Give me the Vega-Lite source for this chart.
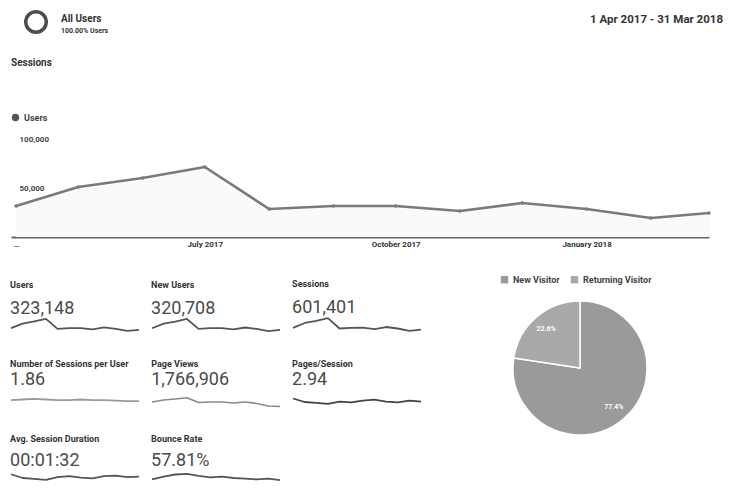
{
  "$schema": "https://vega.github.io/schema/vega-lite/v6.json",
  "background": "white",
  "padding": {"left": 10, "top": 10, "right": 0, "bottom": 0},
  "config": {
    "view": {"stroke": null},
    "font": "Roboto",
    "title": {"color": "#333333", "fontWeight": "bold"},
    "line": {"strokeJoin": "round"},
    "arc": {"strokeJoin": "round"},
    "point": {"strokeJoin": "round"}
  },
  "resolve": {"scale": {"color": "independent"}, "legend": {"color": "independent"}},
  "datasets": {
    "monthly": [
      {"month": "2017-04-01", "users": 31600, "series": "Users"},
      {"month": "2017-05-01", "users": 51000, "series": "Users"},
      {"month": "2017-06-01", "users": 60200, "series": "Users"},
      {"month": "2017-07-01", "users": 71400, "series": "Users"},
      {"month": "2017-08-01", "users": 28600, "series": "Users"},
      {"month": "2017-09-01", "users": 31600, "series": "Users"},
      {"month": "2017-10-01", "users": 31600, "series": "Users"},
      {"month": "2017-11-01", "users": 26500, "series": "Users"},
      {"month": "2017-12-01", "users": 34700, "series": "Users"},
      {"month": "2018-01-01", "users": 28600, "series": "Users"},
      {"month": "2018-02-01", "users": 19400, "series": "Users"},
      {"month": "2018-03-01", "users": 24500, "series": "Users"}
    ],
    "sparks": [
      {"metric": "Users", "m": 1, "v": 31600}, {"metric": "Users", "m": 2, "v": 51000}, {"metric": "Users", "m": 3, "v": 60200}, {"metric": "Users", "m": 4, "v": 71400}, {"metric": "Users", "m": 5, "v": 28600}, {"metric": "Users", "m": 6, "v": 31600}, {"metric": "Users", "m": 7, "v": 31600}, {"metric": "Users", "m": 8, "v": 26500}, {"metric": "Users", "m": 9, "v": 34700}, {"metric": "Users", "m": 10, "v": 28600}, {"metric": "Users", "m": 11, "v": 19400}, {"metric": "Users", "m": 12, "v": 24500},
      {"metric": "New Users", "m": 1, "v": 31200}, {"metric": "New Users", "m": 2, "v": 50600}, {"metric": "New Users", "m": 3, "v": 59700}, {"metric": "New Users", "m": 4, "v": 70900}, {"metric": "New Users", "m": 5, "v": 28300}, {"metric": "New Users", "m": 6, "v": 31300}, {"metric": "New Users", "m": 7, "v": 31200}, {"metric": "New Users", "m": 8, "v": 26200}, {"metric": "New Users", "m": 9, "v": 34300}, {"metric": "New Users", "m": 10, "v": 28300}, {"metric": "New Users", "m": 11, "v": 19100}, {"metric": "New Users", "m": 12, "v": 24200},
      {"metric": "Sessions", "m": 1, "v": 44000}, {"metric": "Sessions", "m": 2, "v": 71500}, {"metric": "Sessions", "m": 3, "v": 84000}, {"metric": "Sessions", "m": 4, "v": 99500}, {"metric": "Sessions", "m": 5, "v": 40000}, {"metric": "Sessions", "m": 6, "v": 44000}, {"metric": "Sessions", "m": 7, "v": 44500}, {"metric": "Sessions", "m": 8, "v": 37000}, {"metric": "Sessions", "m": 9, "v": 48500}, {"metric": "Sessions", "m": 10, "v": 40000}, {"metric": "Sessions", "m": 11, "v": 27000}, {"metric": "Sessions", "m": 12, "v": 34000},
      {"metric": "Number of Sessions per User", "m": 1, "v": 1.86}, {"metric": "Number of Sessions per User", "m": 2, "v": 1.87}, {"metric": "Number of Sessions per User", "m": 3, "v": 1.88}, {"metric": "Number of Sessions per User", "m": 4, "v": 1.87}, {"metric": "Number of Sessions per User", "m": 5, "v": 1.86}, {"metric": "Number of Sessions per User", "m": 6, "v": 1.86}, {"metric": "Number of Sessions per User", "m": 7, "v": 1.87}, {"metric": "Number of Sessions per User", "m": 8, "v": 1.86}, {"metric": "Number of Sessions per User", "m": 9, "v": 1.86}, {"metric": "Number of Sessions per User", "m": 10, "v": 1.85}, {"metric": "Number of Sessions per User", "m": 11, "v": 1.84}, {"metric": "Number of Sessions per User", "m": 12, "v": 1.84},
      {"metric": "Page Views", "m": 1, "v": 150000}, {"metric": "Page Views", "m": 2, "v": 170000}, {"metric": "Page Views", "m": 3, "v": 180000}, {"metric": "Page Views", "m": 4, "v": 192000}, {"metric": "Page Views", "m": 5, "v": 145000}, {"metric": "Page Views", "m": 6, "v": 150000}, {"metric": "Page Views", "m": 7, "v": 150000}, {"metric": "Page Views", "m": 8, "v": 140000}, {"metric": "Page Views", "m": 9, "v": 150000}, {"metric": "Page Views", "m": 10, "v": 135000}, {"metric": "Page Views", "m": 11, "v": 110000}, {"metric": "Page Views", "m": 12, "v": 105000},
      {"metric": "Pages/Session", "m": 1, "v": 3.05}, {"metric": "Pages/Session", "m": 2, "v": 2.90}, {"metric": "Pages/Session", "m": 3, "v": 2.86}, {"metric": "Pages/Session", "m": 4, "v": 2.82}, {"metric": "Pages/Session", "m": 5, "v": 2.92}, {"metric": "Pages/Session", "m": 6, "v": 2.88}, {"metric": "Pages/Session", "m": 7, "v": 2.96}, {"metric": "Pages/Session", "m": 8, "v": 3.00}, {"metric": "Pages/Session", "m": 9, "v": 2.92}, {"metric": "Pages/Session", "m": 10, "v": 2.88}, {"metric": "Pages/Session", "m": 11, "v": 2.96}, {"metric": "Pages/Session", "m": 12, "v": 2.92},
      {"metric": "Avg. Session Duration", "m": 1, "v": 98}, {"metric": "Avg. Session Duration", "m": 2, "v": 90}, {"metric": "Avg. Session Duration", "m": 3, "v": 88}, {"metric": "Avg. Session Duration", "m": 4, "v": 86}, {"metric": "Avg. Session Duration", "m": 5, "v": 92}, {"metric": "Avg. Session Duration", "m": 6, "v": 94}, {"metric": "Avg. Session Duration", "m": 7, "v": 91}, {"metric": "Avg. Session Duration", "m": 8, "v": 89}, {"metric": "Avg. Session Duration", "m": 9, "v": 94}, {"metric": "Avg. Session Duration", "m": 10, "v": 95}, {"metric": "Avg. Session Duration", "m": 11, "v": 92}, {"metric": "Avg. Session Duration", "m": 12, "v": 93},
      {"metric": "Bounce Rate", "m": 1, "v": 56.0}, {"metric": "Bounce Rate", "m": 2, "v": 58.0}, {"metric": "Bounce Rate", "m": 3, "v": 59.5}, {"metric": "Bounce Rate", "m": 4, "v": 60.0}, {"metric": "Bounce Rate", "m": 5, "v": 58.5}, {"metric": "Bounce Rate", "m": 6, "v": 57.5}, {"metric": "Bounce Rate", "m": 7, "v": 58.0}, {"metric": "Bounce Rate", "m": 8, "v": 57.0}, {"metric": "Bounce Rate", "m": 9, "v": 56.5}, {"metric": "Bounce Rate", "m": 10, "v": 56.0}, {"metric": "Bounce Rate", "m": 11, "v": 56.5}, {"metric": "Bounce Rate", "m": 12, "v": 55.5}
    ]
  },
  "vconcat": [
    {
      "hconcat": [
        {
          "width": 50, "height": 22,
          "data": {"values": [{"segment": "All Users"}]},
          "mark": {"type": "point", "shape": "circle", "filled": false, "size": 420, "strokeWidth": 3.5, "color": "#4d4d4d", "opacity": 1, "strokeJoin": "round"},
          "encoding": {}
        },
        {
          "width": 380, "height": 1,
          "data": {"values": [{"segment": "All Users", "share": "100.00% Users"}]},
          "title": {"text": "All Users", "subtitle": "100.00% Users", "orient": "bottom", "anchor": "start", "fontSize": 10, "subtitleFontSize": 7, "subtitleFontWeight": "bold", "subtitleColor": "#333333", "subtitlePadding": 3, "offset": 2},
          "mark": {"type": "text", "opacity": 0, "fontSize": 1},
          "encoding": {"text": {"field": "segment"}}
        },
        {
          "width": 282, "height": 1,
          "data": {"values": [{"range": "1 Apr 2017 - 31 Mar 2018"}]},
          "title": {"text": "1 Apr 2017 - 31 Mar 2018", "orient": "bottom", "anchor": "end", "fontSize": 11.5, "offset": 2},
          "mark": {"type": "text", "opacity": 0, "fontSize": 1},
          "encoding": {"text": {"field": "range"}}
        }
      ],
      "spacing": 0
    },
    {
      "resolve": {"scale": {"color": "independent"}, "legend": {"color": "independent"}},
      "vconcat": [
        {
          "width": 698, "height": 98,
          "title": {"text": "Sessions", "anchor": "start", "fontSize": 10, "offset": 45},
          "data": {"name": "monthly"},
          "encoding": {
            "x": {"field": "month", "type": "temporal",
              "scale": {"type": "utc", "domain": [{"year": 2017, "month": 3, "date": 29, "hours": 14, "utc": true}, {"year": 2018, "month": 3, "date": 1, "utc": true}]},
              "axis": {"title": null, "values": [{"year": 2017, "month": 4, "date": 1, "utc": true}, {"year": 2017, "month": 7, "date": 1, "utc": true}, {"year": 2017, "month": 10, "date": 1, "utc": true}, {"year": 2018, "month": 1, "date": 1, "utc": true}],
                "labelExpr": "utcmonth(datum.value) == 3 ? '…' : utcFormat(datum.value, '%B %Y')",
                "labelFlush": false, "ticks": false, "grid": false, "domainColor": "#666666", "domainWidth": 2,
                "labelFontSize": 8, "labelFontWeight": "bold", "labelColor": "#333333", "labelPadding": 3}},
            "y": {"field": "users", "type": "quantitative", "scale": {"domain": [0, 100000]},
              "axis": {"title": null, "values": [50000, 100000], "labelExpr": "format(datum.value, ',')", "domain": false, "grid": false,
                "ticks": false, "tickSize": 0, "labelPadding": -8, "labelAlign": "left", "labelBaseline": "middle",
                "labelFontSize": 8, "labelFontWeight": "bold", "labelColor": "#444444"}}
          },
          "layer": [
            {"mark": {"type": "area", "color": "#fafafa"}},
            {"mark": {"type": "line", "strokeWidth": 2.6},
              "encoding": {"color": {"field": "series", "type": "nominal", "scale": {"range": ["#7a7a7a"]},
                "legend": {"orient": "top", "direction": "horizontal", "title": null, "offset": 16, "symbolType": "circle", "symbolSize": 55, "symbolStrokeWidth": 0, "symbolFillColor": "#555555", "labelFontSize": 9, "labelFontWeight": "bold", "labelColor": "#444444"}}}},
            {"mark": {"type": "point", "filled": true, "size": 12, "color": "#7a7a7a", "opacity": 1}}
          ]
        },
        {
          "resolve": {"scale": {"color": "independent"}, "legend": {"color": "independent"}},
          "hconcat": [
            {
              "vconcat": [
                {
                  "hconcat": [
                    {"width": 128, "height": 14, "title": {"text": "Users", "subtitle": "323,148", "anchor": "start", "fontSize": 9, "subtitleFontSize": 18, "subtitleColor": "#4a4a4a", "subtitlePadding": 10, "offset": 0},
                      "data": {"name": "sparks"}, "transform": [{"filter": "datum.metric == 'Users'"}],
                      "mark": {"type": "line", "strokeWidth": 1.8, "color": "#555555"},
                      "encoding": {"x": {"field": "m", "type": "quantitative", "axis": null, "scale": {"nice": false, "zero": false}}, "y": {"field": "v", "type": "quantitative", "axis": null, "scale": {"zero": false}}}},
                    {"width": 128, "height": 14, "title": {"text": "New Users", "subtitle": "320,708", "anchor": "start", "fontSize": 9, "subtitleFontSize": 18, "subtitleColor": "#4a4a4a", "subtitlePadding": 10, "offset": 0},
                      "data": {"name": "sparks"}, "transform": [{"filter": "datum.metric == 'New Users'"}],
                      "mark": {"type": "line", "strokeWidth": 1.8, "color": "#555555"},
                      "encoding": {"x": {"field": "m", "type": "quantitative", "axis": null, "scale": {"nice": false, "zero": false}}, "y": {"field": "v", "type": "quantitative", "axis": null, "scale": {"zero": false}}}},
                    {"width": 128, "height": 14, "title": {"text": "Sessions", "subtitle": "601,401", "anchor": "start", "fontSize": 9, "subtitleFontSize": 18, "subtitleColor": "#4a4a4a", "subtitlePadding": 10, "offset": 0},
                      "data": {"name": "sparks"}, "transform": [{"filter": "datum.metric == 'Sessions'"}],
                      "mark": {"type": "line", "strokeWidth": 1.8, "color": "#555555"},
                      "encoding": {"x": {"field": "m", "type": "quantitative", "axis": null, "scale": {"nice": false, "zero": false}}, "y": {"field": "v", "type": "quantitative", "axis": null, "scale": {"zero": false}}}}
                  ],
                  "spacing": 11
                },
                {
                  "vconcat": [
                    {
                      "hconcat": [
                        {"width": 128, "height": 14, "title": {"text": "Number of Sessions per User", "subtitle": "1.86", "anchor": "start", "fontSize": 9, "subtitleFontSize": 18, "subtitleColor": "#4a4a4a", "subtitlePadding": 2, "offset": 6},
                          "data": {"name": "sparks"}, "transform": [{"filter": "datum.metric == 'Number of Sessions per User'"}],
                          "mark": {"type": "line", "strokeWidth": 1.8, "color": "#9a9a9a"},
                          "encoding": {"x": {"field": "m", "type": "quantitative", "axis": null, "scale": {"nice": false, "zero": false}}, "y": {"field": "v", "type": "quantitative", "axis": null, "scale": {"domain": [1.7, 1.95]}}}},
                        {"width": 128, "height": 14, "title": {"text": "Page Views", "subtitle": "1,766,906", "anchor": "start", "fontSize": 9, "subtitleFontSize": 18, "subtitleColor": "#4a4a4a", "subtitlePadding": 2, "offset": 6},
                          "data": {"name": "sparks"}, "transform": [{"filter": "datum.metric == 'Page Views'"}],
                          "mark": {"type": "line", "strokeWidth": 1.6, "color": "#8a8a8a"},
                          "encoding": {"x": {"field": "m", "type": "quantitative", "axis": null, "scale": {"nice": false, "zero": false}}, "y": {"field": "v", "type": "quantitative", "axis": null, "scale": {"domain": [80000, 220000]}}}},
                        {"width": 128, "height": 14, "title": {"text": "Pages/Session", "subtitle": "2.94", "anchor": "start", "fontSize": 9, "subtitleFontSize": 18, "subtitleColor": "#4a4a4a", "subtitlePadding": 2, "offset": 6},
                          "data": {"name": "sparks"}, "transform": [{"filter": "datum.metric == 'Pages/Session'"}],
                          "mark": {"type": "line", "strokeWidth": 1.8, "color": "#444444"},
                          "encoding": {"x": {"field": "m", "type": "quantitative", "axis": null, "scale": {"nice": false, "zero": false}}, "y": {"field": "v", "type": "quantitative", "axis": null, "scale": {"domain": [2.6, 3.2]}}}}
                      ],
                      "spacing": 11
                    },
                    {
                      "hconcat": [
                        {"width": 128, "height": 14, "title": {"text": "Avg. Session Duration", "subtitle": "00:01:32", "anchor": "start", "fontSize": 9, "subtitleFontSize": 18, "subtitleColor": "#4a4a4a", "subtitlePadding": 8, "offset": 1},
                          "data": {"name": "sparks"}, "transform": [{"filter": "datum.metric == 'Avg. Session Duration'"}],
                          "mark": {"type": "line", "strokeWidth": 1.8, "color": "#555555"},
                          "encoding": {"x": {"field": "m", "type": "quantitative", "axis": null, "scale": {"nice": false, "zero": false}}, "y": {"field": "v", "type": "quantitative", "axis": null, "scale": {"domain": [75, 105]}}}},
                        {"width": 128, "height": 14, "title": {"text": "Bounce Rate", "subtitle": "57.81%", "anchor": "start", "fontSize": 9, "subtitleFontSize": 18, "subtitleColor": "#4a4a4a", "subtitlePadding": 8, "offset": 1},
                          "data": {"name": "sparks"}, "transform": [{"filter": "datum.metric == 'Bounce Rate'"}],
                          "mark": {"type": "line", "strokeWidth": 1.8, "color": "#555555"},
                          "encoding": {"x": {"field": "m", "type": "quantitative", "axis": null, "scale": {"nice": false, "zero": false}}, "y": {"field": "v", "type": "quantitative", "axis": null, "scale": {"domain": [52, 62]}}}}
                      ],
                      "spacing": 11
                    }
                  ],
                  "spacing": 26
                }
              ],
              "spacing": 28
            },
            {
              "width": 160, "height": 100,
              "data": {"values": [
                {"visitor": "New Visitor", "share": 77.4, "label": "77.4%"},
                {"visitor": "Returning Visitor", "share": 22.6, "label": "22.6%"}
              ]},
              "encoding": {
                "theta": {"field": "share", "type": "quantitative", "stack": true},
                "order": {"field": "share", "sort": "descending"}
              },
              "layer": [
                {"mark": {"type": "arc", "radius": 67, "stroke": "white", "strokeWidth": 1.5},
                  "encoding": {"color": {"field": "visitor", "type": "nominal", "scale": {"domain": ["New Visitor", "Returning Visitor"], "range": ["#9a9a9a", "#a9a9a9"]},
                    "legend": {"orient": "top", "direction": "horizontal", "title": null, "offset": 33, "symbolType": "square", "symbolSize": 55, "symbolStrokeWidth": 0, "columnPadding": 10, "labelFontSize": 9, "labelFontWeight": "bold", "labelColor": "#444444"}}}},
                {"mark": {"type": "text", "radius": 52, "fontSize": 7, "fontWeight": "bold", "color": "white"},
                  "encoding": {"text": {"field": "label"}, "detail": {"field": "visitor"}}}
              ]
            }
          ],
          "spacing": 78
        }
      ],
      "spacing": 27
    }
  ],
  "spacing": 24
}
